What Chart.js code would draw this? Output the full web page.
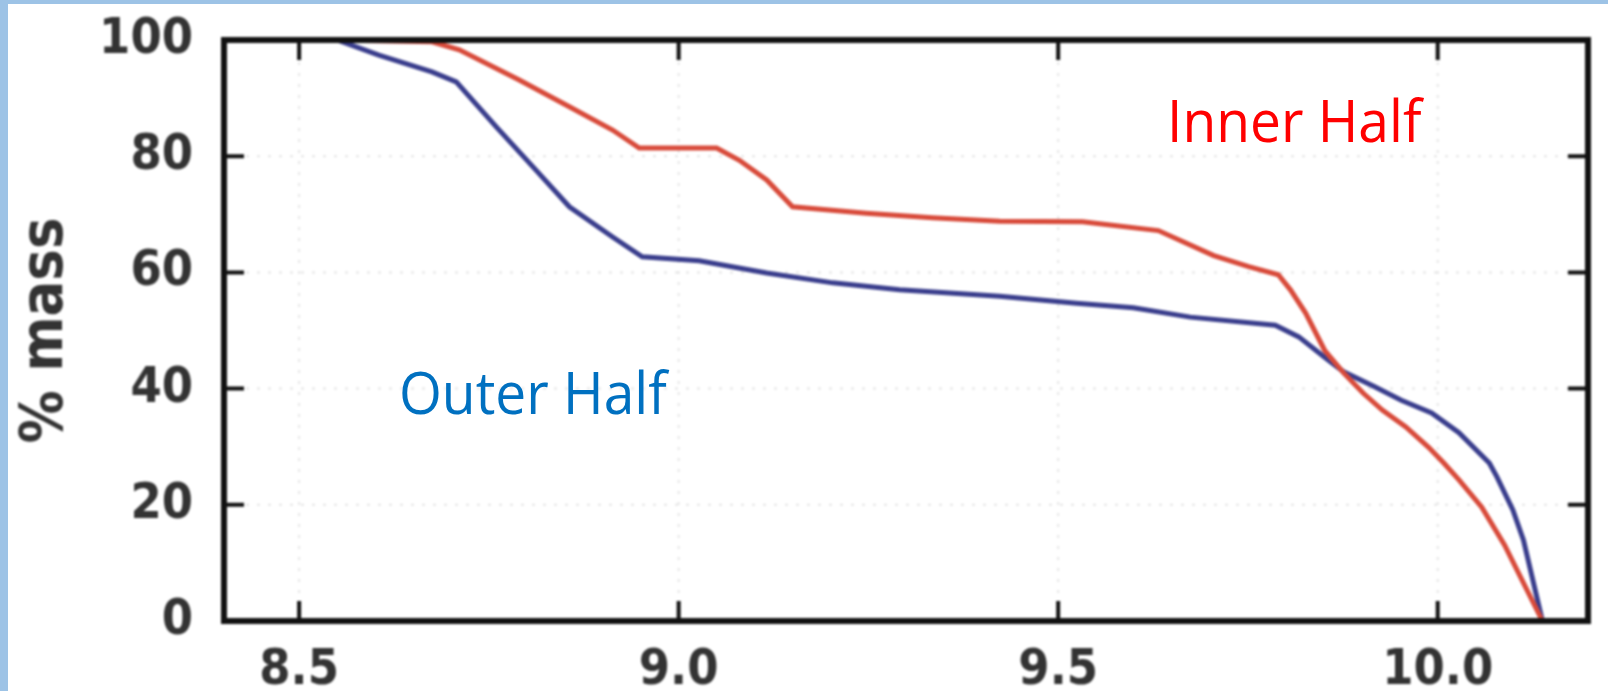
<!DOCTYPE html>
<html>
<head>
<meta charset="utf-8">
<script src="https://cdn.jsdelivr.net/npm/chart.js@4.4.0/dist/chart.umd.min.js"></script>
<style>
  html, body { margin: 0; padding: 0; background: #fff; width: 1608px; height: 691px; overflow: hidden; }
  #frame { position: absolute; left: 0; top: 0; width: 1600px; height: 687px;
           border-left: 8px solid #9DC3E6; border-top: 4px solid #9DC3E6; background: #fff; }
  #plot { position: absolute; left: 0; top: 0; width: 1600px; height: 687px; filter: blur(1px); }
  .tag { position: absolute; font-family: "Open Sans", sans-serif; font-size: 58px; line-height: 1;
         white-space: nowrap; transform-origin: left top; transform: scaleX(0.95); }
  #inner { left: 1167px; top: 91px; color: #FF0000; }
  #outer { left: 399px; top: 363px; color: #0070C0; }
</style>
</head>
<body>
<div id="frame">
  <div id="plot"><canvas id="c" width="1600" height="687"></canvas></div>
</div>
<div class="tag" id="inner">Inner Half</div>
<div class="tag" id="outer">Outer Half</div>

<script>
// Cumulative mass profile: x = log stellar mass bin, y = % of mass above it
const innerX = [8.55, 8.675, 8.711, 8.790, 8.856, 8.913, 8.948, 9.050, 9.080, 9.116, 9.150,
                9.247, 9.334, 9.423, 9.532, 9.632, 9.705, 9.751, 9.790, 9.806, 9.826, 9.851,
                9.876, 9.902, 9.927, 9.958, 9.988, 10.008, 10.028, 10.058, 10.088, 10.138];
const innerY = [100, 99.7, 98.3, 93.1, 88.5, 84.5, 81.4, 81.4, 79.3, 75.9, 71.3,
                70.2, 69.4, 68.8, 68.7, 67.2, 62.9, 61.0, 59.6, 57.0, 53.0, 46.6,
                42.7, 39.2, 36.3, 33.4, 29.9, 27.2, 24.3, 19.6, 13.1, 0];

const outerX = [8.55, 8.605, 8.675, 8.707, 8.760, 8.812, 8.856, 8.913, 8.952, 9.027, 9.116,
                9.203, 9.291, 9.423, 9.524, 9.599, 9.674, 9.786, 9.817, 9.851, 9.876, 9.917,
                9.952, 9.992, 10.028, 10.068, 10.078, 10.099, 10.113, 10.138];
const outerY = [100, 97.4, 94.5, 92.8, 85.0, 77.6, 71.3, 66.1, 62.7, 62.0, 59.9,
                58.2, 57.0, 55.9, 54.7, 53.9, 52.3, 50.9, 48.9, 45.4, 42.9, 40.3,
                38.0, 35.8, 32.4, 27.2, 24.8, 19.1, 13.9, 0];

const xTicks = [8.5, 9.0, 9.5, 10.0];
const xTickLabels = ['8.5', '9.0', '9.5', '10.0'];
const yTicks = [0, 20, 40, 60, 80, 100];
const yTitle = '% mass';

const toPoints = (xs, ys) => xs.map((v, i) => ({ x: v, y: ys[i] }));

// Boxed axes with inward tick marks on all four sides, plus faint dotted grid
const boxAxes = {
  id: 'boxAxes',
  beforeDatasetsDraw(chart) {
    const { ctx, chartArea: a, scales: { x, y } } = chart;
    ctx.save();
    ctx.strokeStyle = 'rgba(0,0,0,0.10)';
    ctx.lineWidth = 2;
    ctx.setLineDash([3, 8]);
    ctx.beginPath();
    xTicks.forEach(v => { const p = x.getPixelForValue(v); ctx.moveTo(p, a.top); ctx.lineTo(p, a.bottom); });
    yTicks.slice(1, -1).forEach(v => { const p = y.getPixelForValue(v); ctx.moveTo(a.left, p); ctx.lineTo(a.right, p); });
    ctx.stroke();
    ctx.restore();
  },
  afterDatasetsDraw(chart) {
    const { ctx, chartArea: a, scales: { x, y } } = chart;
    const len = 20;
    ctx.save();
    ctx.strokeStyle = '#111';
    ctx.lineWidth = 4;
    ctx.beginPath();
    xTicks.forEach(v => {
      const p = x.getPixelForValue(v);
      ctx.moveTo(p, a.bottom); ctx.lineTo(p, a.bottom - len);
      ctx.moveTo(p, a.top); ctx.lineTo(p, a.top + len);
    });
    yTicks.forEach(v => {
      const p = y.getPixelForValue(v);
      ctx.moveTo(a.left, p); ctx.lineTo(a.left + len, p);
      ctx.moveTo(a.right, p); ctx.lineTo(a.right - len, p);
    });
    ctx.stroke();
    ctx.lineWidth = 6;
    ctx.strokeRect(a.left, a.top, a.right - a.left, a.bottom - a.top);
    ctx.restore();
  }
};

// Keep tick-label overhang from shifting the plot box
const noOverhang = s => { s.paddingLeft = 0; s.paddingRight = 0; s.paddingTop = 0; s.paddingBottom = 0; };

Chart.defaults.font.family = '"DejaVu Sans Condensed", "DejaVu Sans", sans-serif';

new Chart(document.getElementById('c'), {
  type: 'line',
  data: {
    datasets: [
      { label: 'Inner Half', data: toPoints(innerX, innerY), borderColor: '#d84a3a', borderWidth: 5,
        pointRadius: 0, tension: 0, fill: false },
      { label: 'Outer Half', data: toPoints(outerX, outerY), borderColor: '#393d8c', borderWidth: 5,
        pointRadius: 0, tension: 0, fill: false }
    ]
  },
  options: {
    responsive: false,
    animation: false,
    devicePixelRatio: 1,
    layout: { padding: { left: 0, top: 36, right: 20, bottom: 0 } },
    plugins: { legend: { display: false }, tooltip: { enabled: false } },
    scales: {
      x: {
        type: 'linear',
        min: 8.401,
        max: 10.198,
        afterBuildTicks: s => { s.ticks = xTicks.map(v => ({ value: v })); },
        afterFit: s => { s.height = 70; noOverhang(s); },
        grid: { display: false, drawTicks: false },
        border: { display: false },
        ticks: {
          padding: 20,
          color: '#333',
          font: { size: 50, weight: 'bold' },
          maxRotation: 0,
          callback: v => xTickLabels[xTicks.indexOf(v)] ?? ''
        }
      },
      y: {
        min: 0,
        max: 100,
        afterBuildTicks: s => { s.ticks = yTicks.map(v => ({ value: v })); },
        afterFit: s => { s.width = 216; noOverhang(s); },
        grid: { display: false, drawTicks: false },
        border: { display: false },
        ticks: { padding: 31, color: '#333', font: { size: 50, weight: 'bold' } },
        title: { display: true, text: yTitle, color: '#333', font: { size: 59, weight: 'bold' },
                 padding: { top: 3, bottom: 0 } }
      }
    }
  },
  plugins: [boxAxes]
});
</script>
</body>
</html>
